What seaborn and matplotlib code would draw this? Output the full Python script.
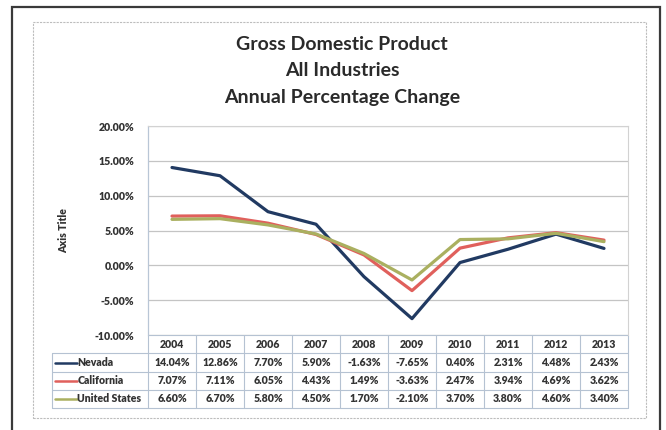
import matplotlib
matplotlib.use("Agg")
import matplotlib.pyplot as plt
from matplotlib.patches import Rectangle
from matplotlib.lines import Line2D
import numpy as np
import pandas as pd
import seaborn as sns

# Annual percentage change in GDP, all industries
years = ["2004", "2005", "2006", "2007", "2008", "2009", "2010", "2011", "2012", "2013"]
nevada = [14.04, 12.86, 7.70, 5.90, -1.63, -7.65, 0.40, 2.31, 4.48, 2.43]
california = [7.07, 7.11, 6.05, 4.43, 1.49, -3.63, 2.47, 3.94, 4.69, 3.62]
united_states = [6.60, 6.70, 5.80, 4.50, 1.70, -2.10, 3.70, 3.80, 4.60, 3.40]
series_names = ["Nevada", "California", "United States"]
y_ticks = [-10, -5, 0, 5, 10, 15, 20]

title_lines = ["Gross Domestic Product", "All Industries", "Annual Percentage Change"]
axis_title = "Axis Title"

colors = {"Nevada": "#213a62", "California": "#e0605c", "United States": "#aab060"}

sns.set_theme(style="white")
plt.rcParams["font.family"] = ["Lato", "DejaVu Sans"]

W, H = 666, 430
fig = plt.figure(figsize=(W / 100, H / 100), dpi=100)
fig.patch.set_facecolor("white")

# plot area in pixel coordinates
px_left, px_right, px_top, px_bottom = 148, 628, 126, 335
ax = fig.add_axes([px_left / W, 1 - px_bottom / H,
                   (px_right - px_left) / W, (px_bottom - px_top) / H])

values = {"Nevada": nevada, "California": california, "United States": united_states}
df = pd.DataFrame([
    {"x": i, "year": y, "series": s, "value": values[s][i]}
    for s in series_names for i, y in enumerate(years)
])

sns.lineplot(data=df, x="x", y="value", hue="series", hue_order=series_names,
             palette=colors, linewidth=2.3, legend=False, ax=ax, zorder=3)

small = 7.6
ink = "#333333"
ax.set_xlim(-0.5, len(years) - 0.5)
ax.set_ylim(min(y_ticks), max(y_ticks))
ax.set_yticks(y_ticks)
ax.set_yticklabels([f"{v:.2f}%" for v in y_ticks], fontsize=small, fontweight="heavy",
                   color=ink)
ax.set_xticks([])
ax.set_xlabel("")
ax.set_ylabel(axis_title, fontsize=small, fontweight="heavy", color=ink, labelpad=18)
ax.tick_params(axis="y", length=0, pad=10)
ax.grid(axis="y", color="#c4c4c4", linewidth=0.9)
ax.set_axisbelow(True)
for side in ["top", "right"]:
    ax.spines[side].set_color("#d2d2d2")
    ax.spines[side].set_linewidth(0.8)
ax.spines["left"].set_color("#b9c6d6")
ax.spines["left"].set_linewidth(0.9)
ax.spines["bottom"].set_visible(False)

# data table beneath the plot area
ax_h = px_bottom - px_top
def ay(pix_below):
    return -pix_below / ax_h

row_edges = [0, 18, 37, 55, 73]
trans = ax.get_xaxis_transform()
line_kw = dict(color="#b5c2d2", linewidth=0.8, transform=trans, clip_on=False)
legend_left = -2.5
n = len(years)

# horizontal rules
ax.add_line(Line2D([-0.5, n - 0.5], [ay(0), ay(0)], **line_kw))
for e in row_edges[1:]:
    ax.add_line(Line2D([legend_left, n - 0.5], [ay(e), ay(e)], **line_kw))
# vertical rules
for i in range(n + 1):
    ax.add_line(Line2D([i - 0.5, i - 0.5], [ay(0), ay(row_edges[-1])], **line_kw))
ax.add_line(Line2D([legend_left, legend_left], [ay(row_edges[1]), ay(row_edges[-1])], **line_kw))

txt_kw = dict(transform=trans, fontsize=small, fontweight="heavy", color=ink,
              va="center", clip_on=False)
for i, y in enumerate(years):
    ax.text(i, ay(9), y, ha="center", **txt_kw)

for r, s in enumerate(series_names):
    yc = ay((row_edges[r + 1] + row_edges[r + 2]) / 2)
    ax.add_line(Line2D([legend_left + 0.06, legend_left + 0.52], [yc, yc],
                       color=colors[s], linewidth=1.8, transform=trans, clip_on=False))
    ax.text(legend_left + 0.53, yc, s, ha="left", **txt_kw)
    for i, v in enumerate(values[s]):
        ax.text(i, yc, f"{v:.2f}%", ha="center", **txt_kw)

# title
for k, line in enumerate(title_lines):
    fig.text(342 / W, 1 - (44 + 27 * k) / H, line, ha="center", va="center",
             fontsize=14, fontweight="bold", color="#2a2a2a")

# chart frames
fig.add_artist(Rectangle((33 / W, 1 - 418 / H), (646 - 33) / W, (418 - 22) / H,
                         transform=fig.transFigure, fill=False,
                         edgecolor="#bdbdbd", linewidth=0.8, linestyle=(0, (2, 1))))
fig.add_artist(Rectangle((12 / W, -0.05), (660 - 12) / W, 1.05 - 7 / H,
                         transform=fig.transFigure, fill=False,
                         edgecolor="#3a3a3a", linewidth=1.6))

fig.savefig("out.png", dpi=100, facecolor="white")
